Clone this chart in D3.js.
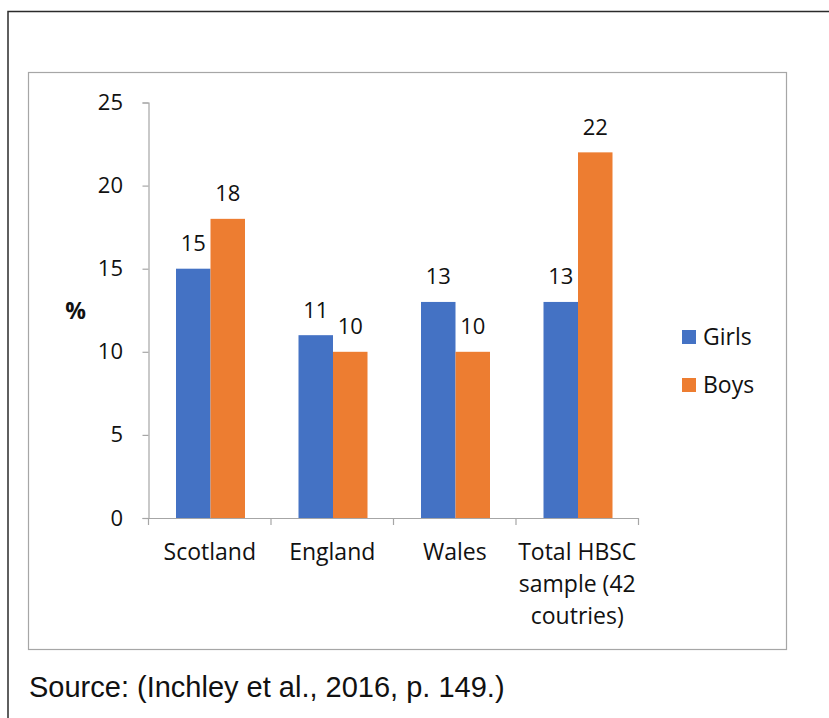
<!DOCTYPE html>
<html>
<head>
<meta charset="utf-8">
<script src="https://cdn.jsdelivr.net/npm/d3@7"></script>
<style>
  html, body { margin: 0; padding: 0; background: #fff; }
  svg { display: block; }
  text { font-family: "Open Sans", "Noto Sans", sans-serif; fill: #111; }
</style>
</head>
<body>
<svg id="chart" width="829" height="718"></svg>
<script>
// Share of young people reporting the behaviour, by country and sex (%)
const categories = [["Scotland"], ["England"], ["Wales"], ["Total HBSC", "sample (42", "coutries)"]];
const categoryKeys = ["Scotland", "England", "Wales", "Total HBSC sample (42 coutries)"];
const seriesNames = ["Girls", "Boys"];
const girls = [15, 11, 13, 13];
const boys = [18, 10, 10, 22];
const yTicks = [0, 5, 10, 15, 20, 25];
const sourceNote = "Source: (Inchley et al., 2016, p. 149.)";

const colors = { Girls: "#4472C4", Boys: "#ED7D31" };
const values = { Girls: girls, Boys: boys };

const svg = d3.select("#chart");

// page frame and chart-area frame
svg.append("rect").attr("x", 8).attr("y", 11.5).attr("width", 900).attr("height", 800)
  .attr("fill", "#fff").attr("stroke", "#2b2b2b").attr("stroke-width", 1.5);
svg.append("rect").attr("x", 28.5).attr("y", 72.5).attr("width", 758).attr("height", 577)
  .attr("fill", "#fff").attr("stroke", "#a6a6a6").attr("stroke-width", 1.2);

const y = d3.scaleLinear().domain([0, 25]).range([518, 102.5]);
const x = d3.scaleBand().domain(categoryKeys).range([148.5, 638.5]).padding(0);
const xSub = d3.scaleBand().domain(seriesNames).range([27.5, 96.5]).padding(0);

// y axis
const yAxis = svg.append("g").attr("transform", "translate(148.5,0)")
  .call(d3.axisLeft(y).tickValues(yTicks).tickSize(6).tickPadding(19.5));
yAxis.selectAll("path, line").attr("stroke", "#a6a6a6").attr("stroke-width", 1.2);
yAxis.selectAll("text").attr("font-size", 22).attr("font-family", "'Open Sans', sans-serif").attr("fill", "#111");

// x axis line with ticks at category boundaries
const xAxis = svg.append("g").attr("transform", "translate(0,518)")
  .call(d3.axisBottom(x).tickSize(0).tickFormat(""));
xAxis.select("path").attr("stroke", "#a6a6a6").attr("stroke-width", 1.2);
const bounds = categoryKeys.map(k => x(k)).concat([x.range()[1]]);
xAxis.selectAll("line.bound").data(bounds).enter().append("line")
  .attr("class", "bound")
  .attr("x1", d => d).attr("x2", d => d).attr("y1", 0).attr("y2", 7)
  .attr("stroke", "#a6a6a6").attr("stroke-width", 1.2);

// bars
const groups = svg.append("g").selectAll("g").data(categoryKeys).enter().append("g")
  .attr("transform", d => `translate(${x(d)},0)`);
groups.selectAll("rect").data((d, i) => seriesNames.map(s => ({ s, v: values[s][i] })))
  .enter().append("rect")
  .attr("x", d => xSub(d.s)).attr("width", xSub.bandwidth())
  .attr("y", d => y(d.v)).attr("height", d => y(0) - y(d.v))
  .attr("fill", d => colors[d.s]);
groups.selectAll("text.val").data((d, i) => seriesNames.map(s => ({ s, v: values[s][i] })))
  .enter().append("text").attr("class", "val")
  .attr("x", d => xSub(d.s) + xSub.bandwidth() / 2).attr("y", d => y(d.v) - 17.5)
  .attr("text-anchor", "middle").attr("font-size", 22).text(d => d.v);

// category labels (multi-line)
categories.forEach((lines, i) => {
  const t = svg.append("text").attr("text-anchor", "middle").attr("font-size", 23)
    .attr("x", x(categoryKeys[i]) + x.bandwidth() / 2).attr("y", 560);
  lines.forEach((ln, j) => t.append("tspan")
    .attr("x", x(categoryKeys[i]) + x.bandwidth() / 2).attr("dy", j === 0 ? 0 : 32).text(ln));
});

// y axis title
svg.append("text").attr("x", 75.5).attr("y", 319).attr("text-anchor", "middle")
  .attr("font-size", 23).attr("font-weight", "bold").text("%");

// legend
const legend = svg.append("g").selectAll("g").data(seriesNames).enter().append("g")
  .attr("transform", (d, i) => `translate(682,${330 + i * 48})`);
legend.append("rect").attr("width", 14).attr("height", 14).attr("fill", d => colors[d]);
legend.append("text").attr("x", 21).attr("y", 15).attr("font-size", 23).text(d => d);

// source note
svg.append("text").attr("x", 29).attr("y", 697)
  .attr("font-size", 29)
  .style("font-family", "'Liberation Sans', Arial, sans-serif")
  .text(sourceNote);
</script>
</body>
</html>
